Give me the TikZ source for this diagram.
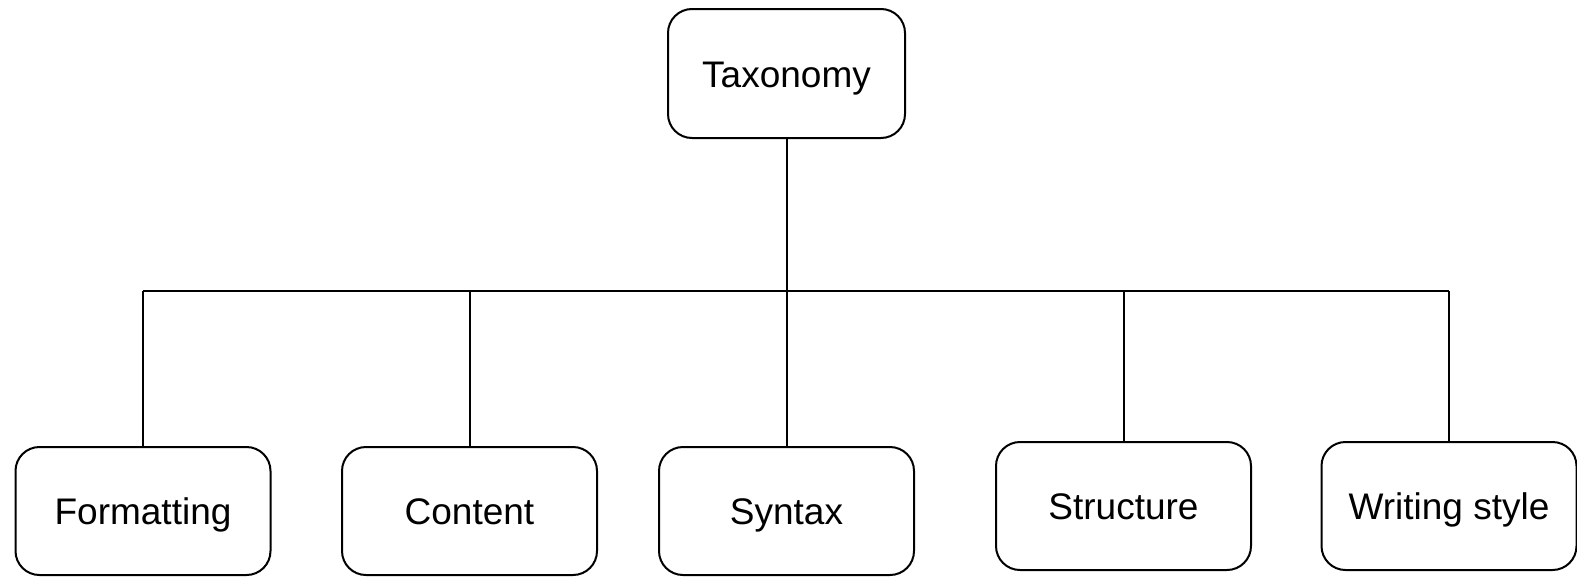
\documentclass[tikz,border=0pt]{standalone}
\usepackage{fontspec}
\setmainfont{Liberation Sans}
\begin{document}
\begin{tikzpicture}[x=1pt,y=-1pt,
  box/.style={draw=black, line width=2pt, rounded corners=24pt, inner sep=0pt,
    font=\fontsize{37}{44}\selectfont, fill=white, text height=27pt, text depth=0pt},
  top/.style={box, minimum width=237pt, minimum height=129pt},
  leaf/.style={box, minimum width=255pt, minimum height=128pt},
  link/.style={draw=black, line width=2pt}]
\useasboundingbox (0,0) rectangle (1577,576);
\node[top] (tax) at (786.5,73.5) {Taxonomy};
\node[leaf] (fmt) at (143,511) {Formatting};
\node[leaf] (con) at (469.5,511) {Content};
\node[leaf] (syn) at (786.5,511) {Syntax};
\node[leaf] (str) at (1123.5,506) {Structure};
\node[leaf] (wri) at (1449,506) {Writing style};
\coordinate (bus) at (786.5,291);
\draw[link] (tax.south) -- (tax.south |- bus);
\draw[link] (fmt.north |- bus) -- (wri.north |- bus);
\foreach \n in {fmt,con,syn,str,wri}
  \draw[link] (\n.north) -- (\n.north |- bus);
\end{tikzpicture}
\end{document}
